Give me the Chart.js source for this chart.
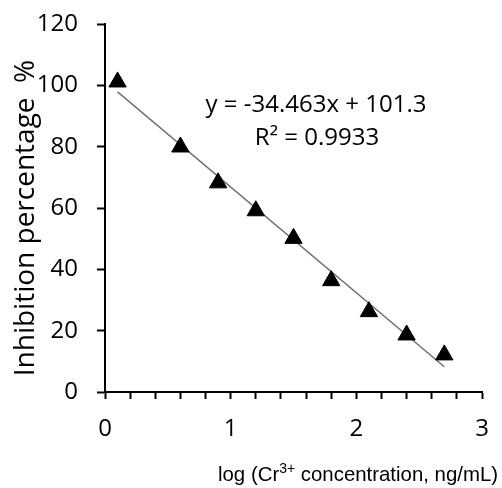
<!DOCTYPE html>
<html>
<head>
<meta charset="utf-8">
<script src="https://cdn.jsdelivr.net/npm/chart.js@4"></script>
<style>
  html, body { margin: 0; padding: 0; background: #fff; }
  #wrap { width: 502px; height: 488px; }
</style>
</head>
<body>
<div id="wrap"><canvas id="chart" width="502" height="488"></canvas></div>
<script>
  // data
  var logConc    = [0.1, 0.6, 0.9, 1.2, 1.5, 1.8, 2.1, 2.4, 2.7];
  var inhibition = [101.1, 79.9, 68.2, 59.1, 50.1, 36.3, 26.2, 18.6, 12.1];

  // linear trendline as printed on the chart
  var fitSlope     = -34.463;
  var fitIntercept = 101.3;
  var fitR2        = '0.9933';
  var fitRange     = [0.1, 2.7];

  var yTicks = [0, 20, 40, 60, 80, 100, 120];
  var xTicks = [0, 1, 2, 3];

  var tickFont = "'Open Sans', sans-serif";

  /* ── axis titles + equation, drawn after the chart ── */
  var labelsPlugin = {
    id: 'labels',
    afterDraw: function (chart) {
      var ctx = chart.ctx;
      ctx.save();
      ctx.fillStyle = '#000';

      // equation
      ctx.font = '24px ' + tickFont;
      ctx.textAlign = 'center';
      ctx.textBaseline = 'alphabetic';
      ctx.fillText('y = ' + fitSlope + 'x + ' + fitIntercept, 316, 112);
      ctx.fillText('R² = ' + fitR2, 317, 145);

      // y title
      ctx.save();
      ctx.translate(34, 218);
      ctx.rotate(-Math.PI / 2);
      ctx.font = '28px ' + tickFont;
      ctx.textAlign = 'center';
      ctx.fillText('Inhibition percentage  %', 0, 0);
      ctx.restore();

      // x title with superscript
      ctx.textAlign = 'left';
      var x = 218, base = 481;
      var parts = [
        { t: 'log (Cr', f: '20.4px "Liberation Sans", Arial, sans-serif', dy: 0 },
        { t: '3+', f: '14px "Liberation Sans", Arial, sans-serif', dy: -8 },
        { t: ' concentration, ng/mL)', f: '20.4px "Liberation Sans", Arial, sans-serif', dy: 0 }
      ];
      parts.forEach(function (p) {
        ctx.font = p.f;
        ctx.fillText(p.t, x, base + p.dy);
        x += ctx.measureText(p.t).width;
      });
      ctx.restore();
    }
  };

  new Chart(document.getElementById('chart'), {
    type: 'scatter',
    data: {
      datasets: [
        {
          label: 'Inhibition',
          data: logConc.map(function (v, i) { return { x: v, y: inhibition[i] }; }),
          pointStyle: 'triangle',
          pointRadius: 10,
          pointBackgroundColor: '#000',
          pointBorderColor: '#000',
          pointBorderWidth: 1,
          showLine: false,
          order: 1
        },
        {
          label: 'Linear',
          type: 'line',
          data: fitRange.map(function (v) { return { x: v, y: fitSlope * v + fitIntercept }; }),
          borderColor: '#707070',
          borderWidth: 1.5,
          pointRadius: 0,
          fill: false,
          order: 2
        }
      ]
    },
    options: {
      responsive: false,
      animation: false,
      layout: { padding: { top: 24, right: 20, left: 0, bottom: 0 } },
      plugins: {
        legend: { display: false },
        tooltip: { enabled: false }
      },
      scales: {
        x: {
          type: 'linear',
          min: xTicks[0],
          max: xTicks[xTicks.length - 1],
          afterFit: function (s) { s.height = 96; },
          ticks: {
            stepSize: 0.2,
            autoSkip: false,
            maxRotation: 0,
            padding: 0,
            color: '#000',
            font: { family: tickFont, size: 24 },
            callback: function (v) {
              var r = Math.round(v * 10) / 10;
              return xTicks.indexOf(r) >= 0 ? String(r) : '';
            }
          },
          // long tick slot gives the label gap, dash keeps the visible mark short
          grid: {
            drawOnChartArea: false,
            drawTicks: true,
            tickLength: 23,
            tickBorderDash: [6, 60],
            tickWidth: 2,
            tickColor: '#000'
          },
          border: { color: '#000', width: 2 }
        },
        y: {
          min: yTicks[0],
          max: yTicks[yTicks.length - 1],
          afterFit: function (s) { s.width = 105; },
          ticks: {
            stepSize: 20,
            padding: 0,
            color: '#000',
            font: { family: tickFont, size: 24 }
          },
          grid: {
            drawOnChartArea: false,
            drawTicks: true,
            tickLength: 27,
            tickBorderDash: [0, 19, 8, 60],
            tickWidth: 2,
            tickColor: '#000'
          },
          border: { color: '#000', width: 2 }
        }
      }
    },
    plugins: [labelsPlugin]
  });
</script>
</body>
</html>
